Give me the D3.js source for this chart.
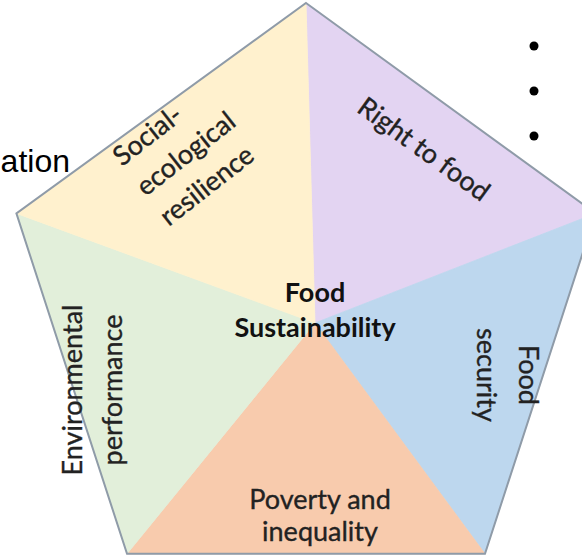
<!DOCTYPE html>
<html><head><meta charset="utf-8">
<script src="https://cdn.jsdelivr.net/npm/d3@7"></script>
<style>html,body{margin:0;padding:0;background:#fff;overflow:hidden}</style>
</head><body>
<svg id="chart" width="582" height="555"></svg>
<script>
// ---- data ----
const segments = ["Right to food", "Food security", "Poverty and inequality", "Environmental performance", "Social-ecological resilience"];
const segmentLines = [["Right to food"], ["Food", "security"], ["Poverty and", "inequality"], ["Environmental", "performance"], ["Social-", "ecological", "resilience"]];
const segmentColors = ["#E3D4F2", "#BDD7EE", "#F8CBAD", "#E2EFDA", "#FFF1CE"];
const segmentWeights = [1, 1, 1, 1, 1];
const centerLines = ["Food", "Sustainability"];
const sideText = "ation";
const bulletItems = ["", "", ""];

// ---- layout ----
const W = 582, H = 555;
const svg = d3.select("#chart");
const cx = 306, cy = 307.5, R = 304.5;      // pentagon circumcircle
const hub = [315, 323];                     // point where the five triangles meet

const pie = d3.pie().sort(null).value(d => d)(segmentWeights);
const pt = a => [cx + R * Math.sin(a), cy - R * Math.cos(a)];

const g = svg.append("g");
g.selectAll("path.seg").data(pie).join("path")
  .attr("class", "seg")
  .attr("d", d => d3.line()([hub, pt(d.startAngle), pt(d.endAngle)]) + "Z")
  .attr("fill", (d, i) => segmentColors[i])
  .attr("stroke", (d, i) => segmentColors[i])
  .attr("stroke-width", 0.8);

// outline
const verts = pie.map(d => pt(d.startAngle));
g.append("path")
  .attr("d", d3.line()(verts) + "Z")
  .attr("fill", "none")
  .attr("stroke", "#8F9BA8")
  .attr("stroke-width", 2)
  .attr("stroke-linejoin", "miter");

// segment labels
const labelPos = [
  {x: 424, y: 149, rot: 36, anchor: "middle", lh: 36},
  {x: 507, y: 375, rot: 90, anchor: "middle", lh: 42},
  {x: 320, y: 516, rot: 0, anchor: "middle", lh: 32},
  {x: 93,  y: 390, rot: -90, anchor: "middle", lh: 40},
  {x: 122, y: 167, rot: -38, anchor: "start", lh: 38, first: true}
];
const fs = 27;
segmentLines.forEach((lines, i) => {
  const p = labelPos[i];
  const t = g.append("text")
    .attr("transform", `translate(${p.x},${p.y}) rotate(${p.rot})`)
    .attr("text-anchor", p.anchor)
    .attr("font-family", "Lato, 'Open Sans', sans-serif")
    .attr("font-size", fs)
    .attr("fill", "#222")
    .attr("stroke", "#222").attr("stroke-width", 0.35);
  lines.forEach((ln, j) => {
    const y = p.first ? j * p.lh : (j - (lines.length - 1) / 2) * p.lh + fs * 0.35;
    t.append("tspan").attr("x", 0).attr("y", y).text(ln);
  });
});

// center label
const ct = g.append("text")
  .attr("transform", `translate(315,310)`)
  .attr("text-anchor", "middle")
  .attr("font-family", "Lato, 'Open Sans', sans-serif")
  .attr("font-weight", "bold")
  .attr("font-size", fs)
  .attr("fill", "#111");
centerLines.forEach((ln, j) => {
  ct.append("tspan").attr("x", 0)
    .attr("y", (j - (centerLines.length - 1) / 2) * 35 + fs * 0.35)
    .text(ln);
});

// cropped side text
svg.append("text")
  .attr("x", 70).attr("y", 172)
  .attr("text-anchor", "end")
  .attr("font-family", "'Liberation Sans', Arial, sans-serif")
  .attr("font-size", 32)
  .attr("fill", "#000")
  .text(sideText);

// bullets
const by = d3.scalePoint().domain(d3.range(bulletItems.length)).range([46, 136]);
svg.selectAll("circle.bullet").data(bulletItems).join("circle")
  .attr("class", "bullet")
  .attr("cx", 534).attr("cy", (d, i) => by(i)).attr("r", 4.5)
  .attr("fill", "#000");
</script>
</body></html>
